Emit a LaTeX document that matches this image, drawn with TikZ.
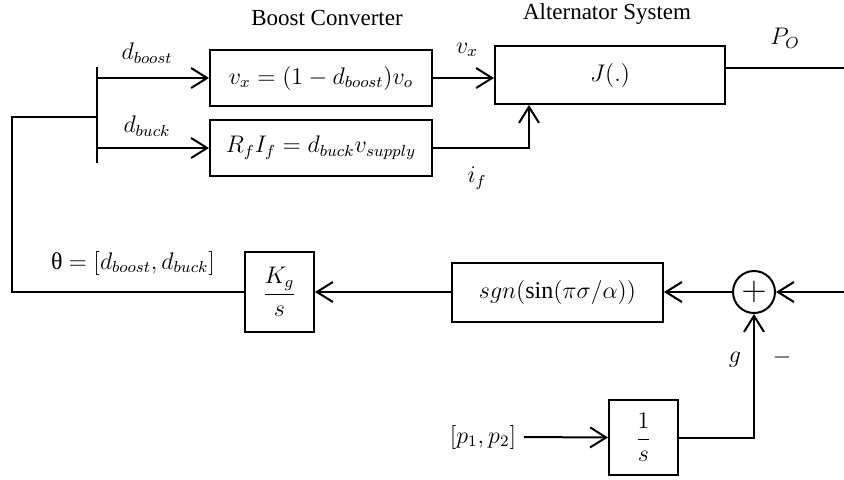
\documentclass[tikz,border=0pt]{standalone}
\usepackage{amsmath}
\usepackage{fontspec}
\setmainfont{Liberation Serif}
\usetikzlibrary{arrows.meta}
\usetikzlibrary{positioning}

\begin{document}
\begin{tikzpicture}[x=0.5pt,y=-0.5pt,line width=1pt,font=\fontsize{12}{14}\selectfont,
  >={Straight Barb[length=8pt,width=10pt,line width=1pt]},
  blk/.style={draw,rectangle,inner sep=0pt}]
\useasboundingbox (0,0) rectangle (844,479);
% titles
\node[font=\fontsize{11.5}{13}\selectfont] (tboost) at (327,18) {Boost Converter};
\node[font=\fontsize{11.5}{13}\selectfont] (talt) at (607,14) {Alternator System};
% upper blocks
\node[blk,minimum width=111pt,minimum height=28pt] (boost) at (321,78) {$v_x=(1-d_{boost})v_o$};
\node[blk,minimum width=111pt,minimum height=28pt] (buck) at (321,148) {$R_fI_f=d_{buck}v_{supply}$};
\node[blk,minimum width=115pt,minimum height=29pt] (alt) at (610,75) {$J(.)$};
% lower blocks
\node[blk,minimum width=34.5pt,minimum height=40pt] (kg) at (279.5,292) {$\dfrac{K_g}{s}$};
\node[blk,minimum width=105.5pt,minimum height=29.5pt] (sgn) at (557.5,292) {$sgn(\sin(\pi\sigma/\alpha))$};
\node[draw,circle,minimum size=21pt,inner sep=0pt] (sum) at (754,292) {\LARGE$+$};
\node[blk,minimum width=34.5pt,minimum height=37.5pt] (int) at (643.5,437.5) {$\dfrac{1}{s}$};
% splitting bar
\coordinate (bartop) at (97,67);
\coordinate (barbot) at (97,163);
\coordinate (tap) at (97,117);
\coordinate (corner) at (12,117);
\draw (bartop) -- (barbot);
\draw[->] (boost.west -| bartop) -- (boost.west);
\draw[->] (buck.west -| bartop) -- (buck.west);
\draw (tap) -- (corner) |- (kg.west);
% signals into the alternator
\coordinate (pout) at (844,68);
\draw[->] (boost.east) -- (alt.west |- boost.east);
\draw[->] (buck.east) -| ([xshift=17.5pt]alt.south west);
\draw (alt.east |- pout) -- (pout);
% feedback path
\coordinate (rin) at (844,292);
\draw[->] (rin) -- (sum.east);
\draw[->] (sum.west) -- (sgn.east);
\draw[->] (sgn.west) -- (kg.east);
\node (pin) at (483,437) {$[p_1,p_2]$};
\draw[->] (pin.east) -- (int.west);
\draw[->] (int.east) -| (sum.south);
% labels
\node (dboost) at (147,53) {$d_{boost}$};
\node (dbuck) at (147,126) {$d_{buck}$};
\node (vx) at (467,50) {$v_x$};
\node (if) at (477,178) {$i_f$};
\node (po) at (785,38) {$P_O$};
\node (theta) at (133,263) {θ $=[d_{boost},d_{buck}]$};
\node (g) at (735,360) {$g$};
\node (minus) at (782,357) {$-$};
\end{tikzpicture}
\end{document}
